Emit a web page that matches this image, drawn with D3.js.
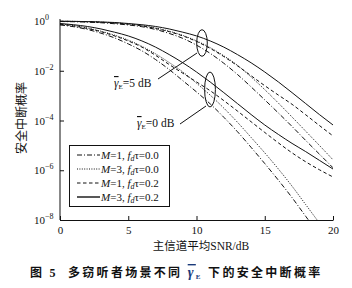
<!DOCTYPE html>
<html>
<head>
<meta charset="utf-8">
<script src="https://cdn.jsdelivr.net/npm/d3@7"></script>
<style>
  body { margin: 0; background: #fff; }
  svg { display: block; }
  text { font-family: "Liberation Serif", "Noto Sans CJK SC", serif; fill: #111; }
</style>
</head>
<body>
<svg width="352" height="288"></svg>
<script>
const svg = d3.select("svg");

// main channel average SNR (dB)
const snr = [0, 1, 2, 3, 4, 5, 6, 7, 8, 9, 10, 11, 12, 13, 14, 15, 16, 17, 18, 19, 20];

// gamma_E = 5 dB
const e5_M1_t0 = [0.955, 0.933, 0.902, 0.851, 0.776, 0.692, 0.589, 0.457, 0.316, 0.2, 0.107, 0.0501, 0.02, 7.08e-3, 2.24e-3, 6.76e-4, 2.0e-4, 5.75e-5, 1.58e-5, 4.47e-6, 1.26e-6];
const e5_M3_t0 = [0.977, 0.966, 0.944, 0.902, 0.851, 0.759, 0.661, 0.525, 0.389, 0.263, 0.158, 0.0851, 0.0398, 0.0166, 5.62e-3, 1.74e-3, 5.01e-4, 1.38e-4, 3.72e-5, 1.0e-5, 2.63e-6];
const e5_M1_t2 = [0.977, 0.955, 0.933, 0.891, 0.832, 0.741, 0.631, 0.501, 0.372, 0.251, 0.151, 0.0794, 0.0372, 0.0158, 6.31e-3, 2.51e-3, 1.05e-3, 4.47e-4, 1.7e-4, 6.31e-5, 2.4e-5];
const e5_M3_t2 = [0.977, 0.966, 0.944, 0.912, 0.871, 0.794, 0.708, 0.603, 0.479, 0.355, 0.251, 0.158, 0.0891, 0.0447, 0.0209, 8.91e-3, 3.55e-3, 1.32e-3, 4.79e-4, 1.74e-4, 6.61e-5];

// gamma_E = 0 dB
const e0_M1_t0 = [0.692, 0.589, 0.457, 0.324, 0.209, 0.12, 0.0631, 0.0282, 0.0112, 3.98e-3, 1.41e-3, 4.68e-4, 1.35e-4, 3.55e-5, 8.32e-6, 1.86e-6, 3.98e-7, 7.94e-8, 1.41e-8, 2.51e-9, 4.47e-10];
const e0_M3_t0 = [0.759, 0.661, 0.525, 0.389, 0.269, 0.17, 0.0955, 0.0479, 0.0214, 8.91e-3, 3.16e-3, 1.05e-3, 3.16e-4, 8.51e-5, 2.09e-5, 5.01e-6, 1.12e-6, 2.29e-7, 4.17e-8, 7.59e-9, 1.41e-9];
const e0_M1_t2 = [0.741, 0.631, 0.501, 0.372, 0.251, 0.158, 0.0891, 0.0417, 0.0178, 7.94e-3, 3.55e-3, 1.58e-3, 6.31e-4, 2.4e-4, 8.91e-5, 3.31e-5, 1.26e-5, 5.01e-6, 2.19e-6, 1.05e-6, 5.37e-7];
const e0_M3_t2 = [0.794, 0.708, 0.603, 0.479, 0.355, 0.251, 0.158, 0.0891, 0.0447, 0.0209, 8.91e-3, 3.55e-3, 1.32e-3, 4.79e-4, 1.74e-4, 6.61e-5, 2.75e-5, 1.2e-5, 5.62e-6, 2.51e-6, 1.12e-6];

const xTicks = [0, 5, 10, 15, 20];
const yTicks = [0, -2, -4, -6, -8];

const legendItems = [
  { M: 1, t: "0.0", dash: "5,2,1,2" },
  { M: 3, t: "0.0", dash: "1,1.4" },
  { M: 1, t: "0.2", dash: "3.5,2.5" },
  { M: 3, t: "0.2", dash: null },
];

const series = [
  { values: e5_M1_t0, style: 0 },
  { values: e5_M3_t0, style: 1 },
  { values: e5_M1_t2, style: 2 },
  { values: e5_M3_t2, style: 3 },
  { values: e0_M1_t0, style: 0 },
  { values: e0_M3_t0, style: 1 },
  { values: e0_M1_t2, style: 2 },
  { values: e0_M3_t2, style: 3 },
];

const margin = { left: 60, right: 333, top: 21, bottom: 220 };

const x = d3.scaleLinear().domain([0, 20]).range([margin.left, margin.right]);
const y = d3.scaleLog().domain([1e-8, 1]).range([margin.bottom, margin.top]);

svg.append("defs").append("clipPath").attr("id", "plot")
  .append("rect")
  .attr("x", margin.left).attr("y", margin.top - 2)
  .attr("width", margin.right - margin.left).attr("height", margin.bottom - margin.top + 2);

const line = d3.line()
  .x((d, i) => x(snr[i]))
  .y((d) => y(d))
  .curve(d3.curveMonotoneX);

svg.append("g")
  .attr("clip-path", "url(#plot)")
  .selectAll("path")
  .data(series)
  .enter()
  .append("path")
  .attr("d", (d) => line(d.values))
  .attr("fill", "none")
  .attr("stroke", "#111")
  .attr("stroke-width", 1)
  .attr("stroke-dasharray", (d) => legendItems[d.style].dash);

// axes
const xAxis = d3.axisBottom(x).tickValues(xTicks).tickSizeInner(-4).tickSizeOuter(0).tickPadding(6);
const xg = svg.append("g").attr("transform", `translate(0,${margin.bottom})`).call(xAxis);
xg.select(".domain").attr("stroke", "#111");
xg.selectAll(".tick line").attr("stroke", "#111");
xg.selectAll(".tick text")
  .attr("font-family", "Liberation Serif")
  .attr("font-size", 11)
  .attr("fill", "#111");

const yAxis = d3.axisLeft(y)
  .tickValues(yTicks.map((p) => Math.pow(10, p)))
  .tickSizeInner(-4).tickSizeOuter(0)
  .tickFormat("");
const yg = svg.append("g").attr("transform", `translate(${margin.left},0)`).call(yAxis);
yg.select(".domain").attr("stroke", "#111").attr("d", `M0,${margin.top - 2}V${margin.bottom}`);
yg.selectAll(".tick line").attr("stroke", "#111");

const yLab = svg.append("g").selectAll("text")
  .data(yTicks)
  .enter()
  .append("text")
  .attr("x", 34)
  .attr("y", (d) => y(Math.pow(10, d)) + 4)
  .attr("font-size", 11);
yLab.append("tspan").text("10");
yLab.append("tspan")
  .attr("dy", -5)
  .attr("font-size", 8)
  .text((d) => (d === 0 ? "0" : "\u2212" + -d));

svg.append("text")
  .attr("transform", "translate(26,118) rotate(-90)")
  .attr("text-anchor", "middle")
  .attr("font-family", "Noto Sans CJK SC")
  .attr("font-size", 12)
  .text("安全中断概率");

svg.append("text")
  .attr("x", 201)
  .attr("y", 250)
  .attr("text-anchor", "middle")
  .attr("font-size", 11.5)
  .text("主信道平均SNR/dB");

// legend
const lg = svg.append("g");
lg.append("rect")
  .attr("x", 69.5).attr("y", 145.5)
  .attr("width", 100).attr("height", 61)
  .attr("fill", "#fff").attr("stroke", "#111").attr("stroke-width", 1);

const ly = d3.scalePoint().domain(d3.range(legendItems.length)).range([155, 197]);

const entry = lg.selectAll("g.entry")
  .data(legendItems)
  .enter()
  .append("g")
  .attr("class", "entry")
  .attr("transform", (d, i) => `translate(0,${ly(i)})`);

entry.append("line")
  .attr("x1", 77).attr("x2", 100)
  .attr("stroke", "#111")
  .attr("stroke-width", (d) => (d.dash ? 1 : 1.4))
  .attr("stroke-dasharray", (d) => d.dash);

const et = entry.append("text").attr("x", 101).attr("y", 4).attr("font-size", 11);
et.append("tspan").attr("font-style", "italic").text("M");
et.append("tspan").text((d) => "=" + d.M + ", ");
et.append("tspan").attr("font-style", "italic").text("f");
et.append("tspan").attr("font-style", "italic").attr("font-size", 8).attr("dy", 2).text("d");
et.append("tspan").attr("dy", -2).text((d) => "\u03c4=" + d.t);

// annotations: ellipses and leaders
const notes = [
  { label: "5", cx: 202, cy: 43, rx: 5.3, ry: 13.3, tx: 114, ty: 87, lx1: 158, ly1: 79, lx2: 197, ly2: 53 },
  { label: "0", cx: 210, cy: 89.5, rx: 5.4, ry: 17.5, tx: 137, ty: 127, lx1: 180, ly1: 124, lx2: 206, ly2: 106 },
];

const ng = svg.append("g");
ng.selectAll("ellipse")
  .data(notes)
  .enter()
  .append("ellipse")
  .attr("cx", (d) => d.cx).attr("cy", (d) => d.cy)
  .attr("rx", (d) => d.rx).attr("ry", (d) => d.ry)
  .attr("fill", "none").attr("stroke", "#111").attr("stroke-width", 1);

ng.selectAll("line")
  .data(notes)
  .enter()
  .append("line")
  .attr("x1", (d) => d.lx1).attr("y1", (d) => d.ly1)
  .attr("x2", (d) => d.lx2).attr("y2", (d) => d.ly2)
  .attr("stroke", "#111").attr("stroke-width", 1);

const nt = ng.selectAll("text")
  .data(notes)
  .enter()
  .append("text")
  .attr("x", (d) => d.tx).attr("y", (d) => d.ty)
  .attr("font-size", 11.5);
nt.append("tspan").attr("font-style", "italic").attr("text-decoration", "overline").text("\u03b3");
nt.append("tspan").attr("font-size", 7).attr("dy", 2).text("E");
nt.append("tspan").attr("dy", -2).text((d) => "=" + d.label + " dB");

// caption
const cap = svg.append("text")
  .attr("x", 30)
  .attr("y", 277)
  .attr("font-family", "Noto Sans CJK SC")
  .attr("font-weight", "bold")
  .attr("font-size", 12)
  .attr("letter-spacing", 2.3);
cap.append("tspan").text("图 5");
cap.append("tspan").attr("x", 68).text("多窃听者场景不同 ");
cap.append("tspan").attr("font-family", "Liberation Serif").attr("font-style", "italic")
  .attr("fill", "#1a3a7a").attr("text-decoration", "overline").attr("font-size", 14).text("\u03b3");
cap.append("tspan").attr("font-family", "Liberation Serif").attr("fill", "#1a3a7a")
  .attr("font-size", 7).attr("dy", 2).text("E");
cap.append("tspan").attr("dy", -2).text(" 下的安全中断概率");
</script>
</body>
</html>
